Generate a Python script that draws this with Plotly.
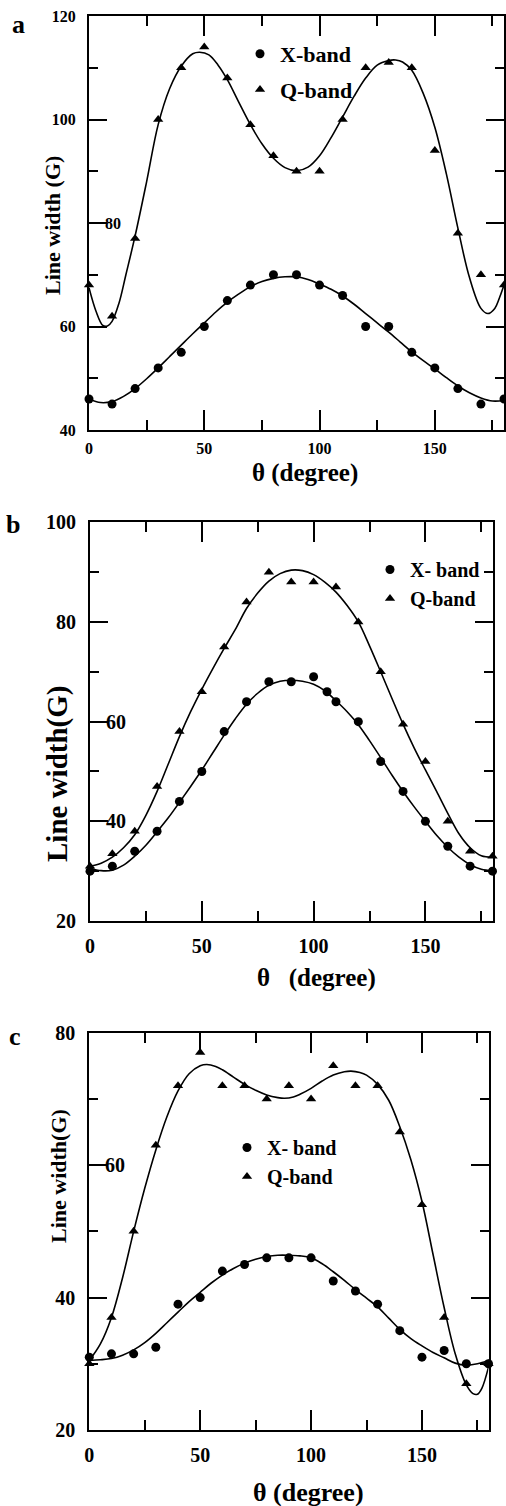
import plotly.graph_objects as go

W, H = 506, 1506
FONT = "Liberation Serif"

# ---------------- data ----------------
theta_pts = [0, 10, 20, 30, 40, 50, 60, 70, 80, 90, 100, 110, 120, 130, 140, 150, 160, 170, 180]

# Panel a
a_x_band = [46, 45, 48, 52, 55, 60, 65, 68, 70, 70, 68, 66, 60, 60, 55, 52, 48, 45, 46]
a_q_band = [68, 62, 77, 100, 110, 114, 108, 99, 93, 90, 90, 100, 110, 111, 110, 94, 78, 70, 68]
a_x_fit_theta = [0, 5, 10, 15, 20, 25, 30, 35, 40, 45, 50, 55, 60, 65, 70, 75, 80, 85, 90, 95,
                 100, 105, 110, 115, 120, 125, 130, 135, 140, 145, 150, 155, 160, 165, 170, 175, 180]
a_x_fit = [46, 45.3, 45.5, 46.5, 48, 49.9, 52, 54.2, 56.4, 58.6, 60.7, 62.8, 64.7, 66.3, 67.7, 68.7,
           69.3, 69.6, 69.6, 69.1, 68.2, 67.2, 65.9, 64.3, 62.5, 60.7, 58.9, 57, 55.1, 53.4, 51.8,
           50.1, 48.5, 47.2, 46.2, 45.6, 45.7]
a_q_fit_theta = [0, 3, 6, 8, 10, 13, 16, 20, 25, 30, 35, 40, 45, 48, 52, 56, 60, 65, 70, 75, 80, 85,
                 90, 95, 100, 105, 110, 115, 120, 125, 130, 133, 136, 140, 145, 150, 155, 160, 165,
                 170, 173, 176, 178, 180]
a_q_fit = [67.5, 63, 60.2, 60.1, 61, 64.5, 70, 77.5, 88, 99, 106, 110.3, 112.7, 113, 112.5, 110.5,
           107.7, 103.3, 99, 95.3, 92.5, 90.7, 90.1, 90.8, 93, 96.5, 100.5, 104.5, 108, 110.5, 111.4,
           111.5, 111.1, 109.5, 105, 98.5, 89.5, 79, 69.5, 63.5, 62.5, 63.5, 65.5, 68]

# Panel b
b_x_theta = [0, 10, 20, 30, 40, 50, 60, 70, 80, 90, 100, 106, 110, 120, 130, 140, 150, 160, 170, 180]
b_x_band = [30, 31, 34, 38, 44, 50, 58, 64, 68, 68, 69, 66, 64, 60, 52, 46, 40, 35, 31, 30]
b_q_band = [31, 33.5, 38, 47, 58, 66, 75, 84, 90, 88, 88, 87, 80, 70, 59.5, 52, 40, 34, 33]
fit_theta = [0, 5, 10, 15, 20, 25, 30, 35, 40, 45, 50, 55, 60, 65, 70, 75, 80, 85, 90, 95,
             100, 105, 110, 115, 120, 125, 130, 135, 140, 145, 150, 155, 160, 165, 170, 175, 180]
b_x_fit = [30.6, 30.1, 30.2, 31.2, 33, 35.2, 37.9, 40.7, 43.8, 47, 50.3, 53.8, 57.3, 60.6, 63.5,
           65.7, 67.3, 68.1, 68.3, 68.1, 67.5, 66.2, 64.2, 62, 59.4, 56.2, 52.8, 49.3, 46, 42.9,
           40, 37.2, 34.8, 32.8, 31.3, 30.4, 30.1]
b_q_fit = [31, 31.6, 32.8, 34.7, 37.3, 41.2, 46, 51.5, 57, 62, 66.5, 70.7, 74.7, 78.5, 82.7, 85.8,
           88.2, 89.7, 90.4, 90.3, 89.5, 88, 86, 83.3, 80, 75.2, 70, 64.7, 59.5, 54.7, 50.3, 46,
           41.6, 37.5, 34.7, 33.1, 32.8]

# Panel c
c_x_band = [31, 31.5, 31.5, 32.5, 39, 40, 44, 45, 46, 46, 46, 42.5, 41, 39, 35, 31, 32, 30, 30]
c_q_band = [30, 37, 50, 63, 72, 77, 72, 72, 70, 72, 70, 75, 72, 72, 65, 54, 37, 27, 30]
c_x_fit = [30.5, 30.6, 30.8, 31.3, 32.1, 33.2, 34.6, 36.2, 37.8, 39.4, 40.8, 42.2, 43.4, 44.4, 45.2,
           45.8, 46.2, 46.4, 46.4, 46.3, 46, 45.1, 43.9, 42.6, 41.2, 39.9, 38.6, 36.9, 35.2, 33.8,
           32.7, 31.7, 30.9, 30.1, 29.8, 30, 30.5]
c_q_fit_theta = [0, 5, 10, 15, 20, 25, 30, 35, 40, 45, 50, 53, 57, 60, 65, 70, 75, 80, 85, 88, 92,
                 95, 100, 105, 110, 115, 118, 122, 125, 130, 135, 140, 145, 150, 155, 160, 165, 170,
                 173, 175, 177, 180]
c_q_fit = [30.5, 33, 37, 43, 50, 56.5, 62.3, 67.3, 71.2, 73.8, 75, 75.2, 74.9, 74.4, 73.3, 72.2,
           71.3, 70.6, 70.2, 70.1, 70.3, 70.7, 71.6, 72.7, 73.6, 74.1, 74.2, 74, 73.6, 72.2, 69.8,
           65.8, 60.8, 54.5, 46.5, 38.5, 31.5, 26.8, 25.5, 25.4, 26.3, 29.5]

# ---------------- layout helpers ----------------
def fx(px):
    return px / W

def fy(py):
    return 1 - py / H

panels = {
    "a": dict(box=(89, 504, 16, 430), yr=[40, 120], tsize=16, xstand=3,
              ytitle="Line width (G)", ytc=(53, 226), ytsize=22,
              xtitle="θ (degree)", xtc=(305, 473), xtsize=25,
              letter=(18, 25), legend=(240, 33), legfont=22, gap=4,
              ylab_out=[40, 60, 100, 120], ylab_in=[80]),
    "b": dict(box=(90, 492.5, 522.3, 921), yr=[20, 100], tsize=20, xstand=6,
              ytitle="Line width(G)", ytc=(57, 774), ytsize=29,
              xtitle="θ   (degree)", xtc=(316, 978), xtsize=25,
              letter=(13, 524), legend=(370, 550), legfont=20, gap=0,
              ylab_out=[20, 80, 100], ylab_in=[40, 60]),
    "c": dict(box=(89.3, 488.5, 1032.7, 1430), yr=[20, 80], tsize=20, xstand=6,
              ytitle="Line width(G)", ytc=(58, 1176), ytsize=22,
              xtitle="θ (degree)", xtc=(308, 1492), xtsize=26,
              letter=(15, 1036), legend=(227, 1128), legfont=20, gap=0,
              ylab_out=[20, 40, 80], ylab_in=[60]),
}

fig = go.Figure()

series = {
    "a": (theta_pts, a_x_band, theta_pts, a_q_band, a_x_fit_theta, a_x_fit, a_q_fit_theta, a_q_fit),
    "b": (b_x_theta, b_x_band, theta_pts, b_q_band, fit_theta, b_x_fit, fit_theta, b_q_fit),
    "c": (theta_pts, c_x_band, theta_pts, c_q_band, fit_theta, c_x_fit, c_q_fit_theta, c_q_fit),
}
xlabels = {"a": ("X-band", "Q-band"), "b": ("X- band", "Q-band"), "c": ("X- band", "Q-band")}

annotations = []
layout_extra = {}
for i, key in enumerate(["a", "b", "c"]):
    p = panels[key]
    n = "" if i == 0 else str(i + 1)
    xa, ya = "x" + n, "y" + n
    legname = "legend" + n
    xt, xv, qt, qv, xft, xfv, qft, qfv = series[key]
    lx, lq = xlabels[key]
    grouped = p["gap"] > 0

    fig.add_trace(go.Scatter(x=xft, y=xfv, mode="lines", line=dict(color="black", width=1.6, shape="spline", smoothing=1.0),
                             xaxis=xa, yaxis=ya, showlegend=False, hoverinfo="skip"))
    fig.add_trace(go.Scatter(x=qft, y=qfv, mode="lines", line=dict(color="black", width=1.6, shape="spline", smoothing=1.0),
                             xaxis=xa, yaxis=ya, showlegend=False, hoverinfo="skip"))
    fig.add_trace(go.Scatter(x=xt, y=xv, mode="markers", name=lx,
                             marker=dict(symbol="circle", size=9, color="black"),
                             xaxis=xa, yaxis=ya, cliponaxis=False, legend=legname,
                             legendgroup=(key + "x") if grouped else None))
    fig.add_trace(go.Scatter(x=qt, y=qv, mode="markers", name=lq,
                             marker=dict(symbol="triangle-up", size=9, color="black"),
                             xaxis=xa, yaxis=ya, cliponaxis=False, legend=legname,
                             legendgroup=(key + "q") if grouped else None))

    x0, x1, y0, y1 = p["box"]
    tickfont = dict(family=FONT, size=p["tsize"], color="black", weight="bold")
    common = dict(showline=True, linecolor="black", linewidth=2, mirror="allticks",
                  ticks="inside", tickwidth=2, tickcolor="black", showgrid=False, zeroline=False,
                  tickfont=tickfont, fixedrange=True)
    layout_extra["xaxis" + n] = dict(
        common, domain=[fx(x0), fx(x1)], range=[0, 180], anchor=ya, ticklabelstandoff=p["xstand"],
        tickmode="array", tickvals=[0, 50, 100, 150], ticktext=["0", "50", "100", "150"], ticklen=20,
        minor=dict(tickmode="array", tickvals=[25, 75, 125, 175], ticklen=10, tickwidth=2,
                   tickcolor="black", ticks="inside", showgrid=False))
    ymaj = list(range(p["yr"][0], p["yr"][1] + 1, 20))
    ymin = list(range(p["yr"][0] + 10, p["yr"][1], 20))
    layout_extra["yaxis" + n] = dict(
        common, domain=[fy(y1), fy(y0)], range=p["yr"], anchor=xa, ticklabelstandoff=8,
        tickmode="array", tickvals=ymaj,
        ticktext=[str(v) if v in p["ylab_out"] else "" for v in ymaj], ticklen=18,
        minor=dict(tickmode="array", tickvals=ymin, ticklen=9, tickwidth=2,
                   tickcolor="black", ticks="inside", showgrid=False))
    leg = dict(x=fx(p["legend"][0]), y=fy(p["legend"][1]), xanchor="left", yanchor="top",
               bgcolor="rgba(0,0,0,0)", font=dict(family=FONT, size=p["legfont"], color="black", weight="bold"),
               itemwidth=30)
    if grouped:
        leg.update(traceorder="grouped", tracegroupgap=p["gap"])
    layout_extra[legname] = leg

    for v in p["ylab_in"]:
        annotations.append(dict(text=str(v), xref=xa + " domain", x=0, yref=ya, y=v,
                                xanchor="left", yanchor="middle", xshift=14, showarrow=False,
                                font=tickfont))
    annotations.append(dict(text=p["ytitle"], xref="paper", yref="paper", x=fx(p["ytc"][0]), y=fy(p["ytc"][1]),
                            textangle=-90, showarrow=False, xanchor="center", yanchor="middle",
                            font=dict(family=FONT, size=p["ytsize"], color="black", weight="bold")))
    annotations.append(dict(text=p["xtitle"], xref="paper", yref="paper", x=fx(p["xtc"][0]), y=fy(p["xtc"][1]),
                            showarrow=False, xanchor="center", yanchor="middle",
                            font=dict(family=FONT, size=p["xtsize"], color="black", weight="bold")))
    annotations.append(dict(text=key, xref="paper", yref="paper", x=fx(p["letter"][0]), y=fy(p["letter"][1]),
                            showarrow=False, xanchor="center", yanchor="middle",
                            font=dict(family=FONT, size=26, color="black", weight="bold")))

fig.update_layout(
    width=W, height=H, margin=dict(l=0, r=0, t=0, b=0, autoexpand=False),
    paper_bgcolor="white", plot_bgcolor="white", annotations=annotations, **layout_extra)

fig.write_html("out.html", config={"displayModeBar": False},
               post_script="document.body.style.margin='0';document.body.style.overflow='hidden';")
